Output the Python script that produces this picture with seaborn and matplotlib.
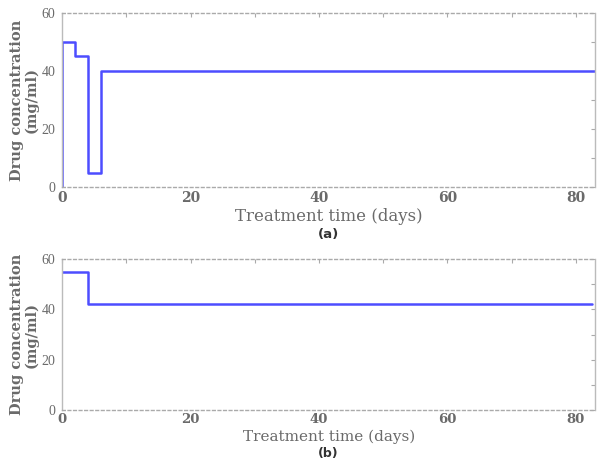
import matplotlib
matplotlib.use("Agg")
import matplotlib.pyplot as plt
import seaborn as sns
import pandas as pd
from matplotlib.ticker import MultipleLocator

# Panel (a): dosing schedule (step changes)
time_a = [0, 0, 2, 4, 6, 83]
conc_a = [0, 50, 45, 5, 40, 40]

# Panel (b): dosing schedule
time_b = [0, 4, 82.5]
conc_b = [55, 42, 42]

x_ticks = [0, 20, 40, 60, 80]
y_ticks = [0, 20, 40, 60]
panel_labels = ["(a)", "(b)"]

LINE_COLOR = "#4d4dff"
GREY = "#6a6a6a"

sns.set_style("white")
plt.rcParams["font.family"] = ["DejaVu Serif"]

fig = plt.figure(figsize=(5.97, 4.61), dpi=100)
ax_a = fig.add_axes([0.104, 0.594, 0.893, 0.378])
ax_b = fig.add_axes([0.104, 0.110, 0.893, 0.328])

xlabel_y = [-0.171, -0.173]
xlabel_size = [12, 11]
xtick_size = [10, 9.5]
xtick_pad = [2.5, 2]
panel_y = [-0.274, -0.286]
panel_size = [9.5, 9]

panels = [(ax_a, time_a, conc_a), (ax_b, time_b, conc_b)]
for i, (ax, t, c) in enumerate(panels):
    df = pd.DataFrame({"t": t, "c": c})
    sns.lineplot(data=df, x="t", y="c", ax=ax, estimator=None, sort=False,
                 drawstyle="steps-post", color=LINE_COLOR, linewidth=1.8)
    ax.set_xlim(0, 83)
    ax.set_ylim(0, 60)
    ax.set_xticks(x_ticks)
    ax.set_yticks(y_ticks)
    ax.xaxis.set_minor_locator(MultipleLocator(10))
    ax.yaxis.set_minor_locator(MultipleLocator(10))
    ax.tick_params(which="both", direction="in", top=True, right=True,
                   colors="#aaaaaa", length=3, width=0.8)
    ax.tick_params(axis="x", which="major", labelsize=xtick_size[i],
                   labelcolor=GREY, pad=xtick_pad[i])
    ax.tick_params(axis="y", which="major", labelsize=10, labelcolor=GREY, pad=5)
    for lab in ax.get_yticklabels():
        lab.set_fontfamily("Liberation Serif")
    for lab in ax.get_xticklabels():
        lab.set_fontweight("bold")
    for side in ["top", "bottom"]:
        ax.spines[side].set_linestyle((0, (2, 2)))
        ax.spines[side].set_color("#aaaaaa")
        ax.spines[side].set_linewidth(1.0)
    for side in ["left", "right"]:
        ax.spines[side].set_color("#bbbbbb")
        ax.spines[side].set_linewidth(1.0)
    ax.set_xlabel("Treatment time (days)", fontsize=xlabel_size[i], color=GREY)
    ax.xaxis.label.set_va("center")
    ax.xaxis.set_label_coords(0.5, xlabel_y[i])
    ax.set_ylabel("Drug concentration\n(mg/ml)", fontsize=10.5, fontweight="bold",
                  color=GREY, linespacing=1.0, labelpad=2)
    ax.text(0.5, panel_y[i], panel_labels[i], transform=ax.transAxes,
            ha="center", va="center", fontsize=panel_size[i], fontweight="bold",
            family="DejaVu Sans", color="#333333")

fig.savefig("out.png", dpi=100)
